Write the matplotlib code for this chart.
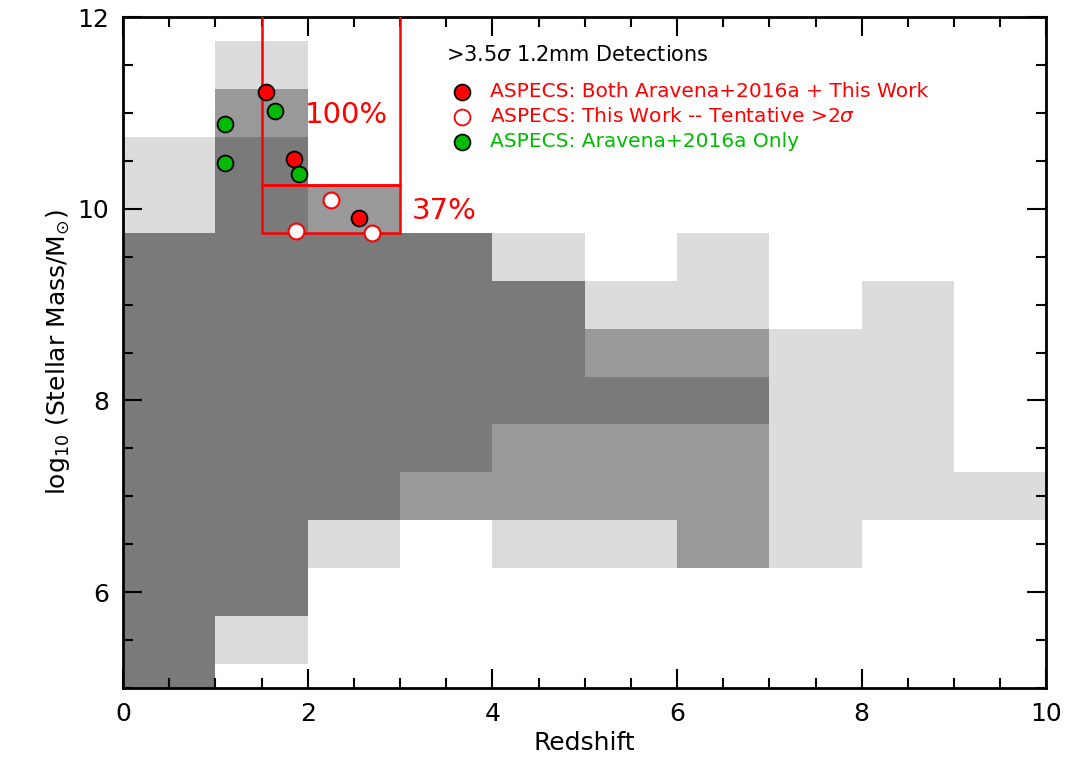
import numpy as np
import matplotlib.pyplot as plt
from matplotlib.colors import ListedColormap
from matplotlib.patches import Rectangle

# shading per redshift bin: (low mass, high mass, level) ; level 1 light, 2 medium, 3 dark
columns = [
    [(9.75, 10.75, 1), (5.0, 9.75, 3)],
    [(11.25, 11.75, 1), (10.75, 11.25, 2), (5.75, 10.75, 3), (5.25, 5.75, 1)],
    [(9.75, 10.25, 2), (6.75, 9.75, 3), (6.25, 6.75, 1)],
    [(7.25, 9.75, 3), (6.75, 7.25, 2)],
    [(9.25, 9.75, 1), (7.75, 9.25, 3), (6.75, 7.75, 2), (6.25, 6.75, 1)],
    [(8.75, 9.25, 1), (8.25, 8.75, 2), (7.75, 8.25, 3), (6.75, 7.75, 2), (6.25, 6.75, 1)],
    [(8.75, 9.75, 1), (8.25, 8.75, 2), (7.75, 8.25, 3), (6.25, 7.75, 2)],
    [(6.25, 8.75, 1)],
    [(6.75, 9.25, 1)],
    [(6.75, 7.25, 1)],
]

both_z = [1.55, 1.85, 2.55]
both_m = [11.22, 10.52, 9.90]
tent_z = [1.87, 2.25, 2.70]
tent_m = [9.77, 10.09, 9.75]
arav_z = [1.10, 1.10, 1.65, 1.90]
arav_m = [10.88, 10.48, 11.02, 10.36]

zedges = np.arange(0, 11, 1.0)
medges = np.arange(5.0, 12.01, 0.25)
grid = np.zeros((len(medges) - 1, len(zedges) - 1))
mc = 0.5 * (medges[1:] + medges[:-1])
for i, segs in enumerate(columns):
    for lo, hi, lev in segs:
        grid[(mc > lo) & (mc < hi), i] = lev

fig = plt.figure(figsize=(10.71, 7.77), dpi=100)
ax = fig.add_axes([0.115, 0.1145, 0.862, 0.8635])
cmap = ListedColormap(['white', '#dcdcdc', '#999999', '#7a7a7a'])
ax.pcolormesh(zedges, medges, grid, cmap=cmap, vmin=-0.5, vmax=3.5)

ax.add_patch(Rectangle((1.5, 10.25), 1.5, 2.0, fill=False, ec='red', lw=1.8, zorder=3))
ax.add_patch(Rectangle((1.5, 9.75), 1.5, 0.5, fill=False, ec='red', lw=1.8, zorder=3))
ax.text(1.97, 10.98, '100%', color='red', fontsize=21, va='center')
ax.text(3.13, 9.98, '37%', color='red', fontsize=21, va='center')

ax.scatter(both_z, both_m, s=130, c='red', ec='black', lw=1.3, zorder=5)
ax.scatter(tent_z, tent_m, s=130, c='white', ec='red', lw=1.5, zorder=5)
ax.scatter(arav_z, arav_m, s=130, c='#00bb00', ec='black', lw=1.3, zorder=5)

ax.text(3.5, 11.6, r'>3.5$\sigma$ 1.2mm Detections', fontsize=15, va='center')
lx = 3.67
for yy, fc, ec, col, lab in [
    (11.22, 'red', 'black', 'red', 'ASPECS: Both Aravena+2016a + This Work'),
    (10.96, 'white', 'red', 'red', r'ASPECS: This Work -- Tentative >2$\sigma$'),
    (10.70, '#00bb00', 'black', '#00bb00', 'ASPECS: Aravena+2016a Only')]:
    ax.scatter([lx], [yy], s=130, c=fc, ec=ec, lw=1.3, zorder=5)
    ax.text(lx + 0.3, yy, lab, color=col, fontsize=14.5, va='center')

ax.set_xlim(0, 10)
ax.set_ylim(5, 12)
ax.set_xticks([0, 2, 4, 6, 8, 10])
ax.set_yticks([6, 8, 10, 12])
ax.set_xticks(np.arange(0, 10.01, 0.5), minor=True)
ax.set_yticks(np.arange(5, 12.01, 0.5), minor=True)
ax.tick_params(which='both', direction='in', top=True, right=True, width=1.5)
ax.tick_params(which='major', length=14, labelsize=18, pad=10)
ax.tick_params(which='minor', length=7)
for s in ax.spines.values():
    s.set_linewidth(2)
ax.set_xlabel('Redshift', fontsize=18)
ax.set_ylabel(r'log$_{10}$ (Stellar Mass/M$_{\odot}$)', fontsize=18)
fig.savefig('out.png', dpi=100)
